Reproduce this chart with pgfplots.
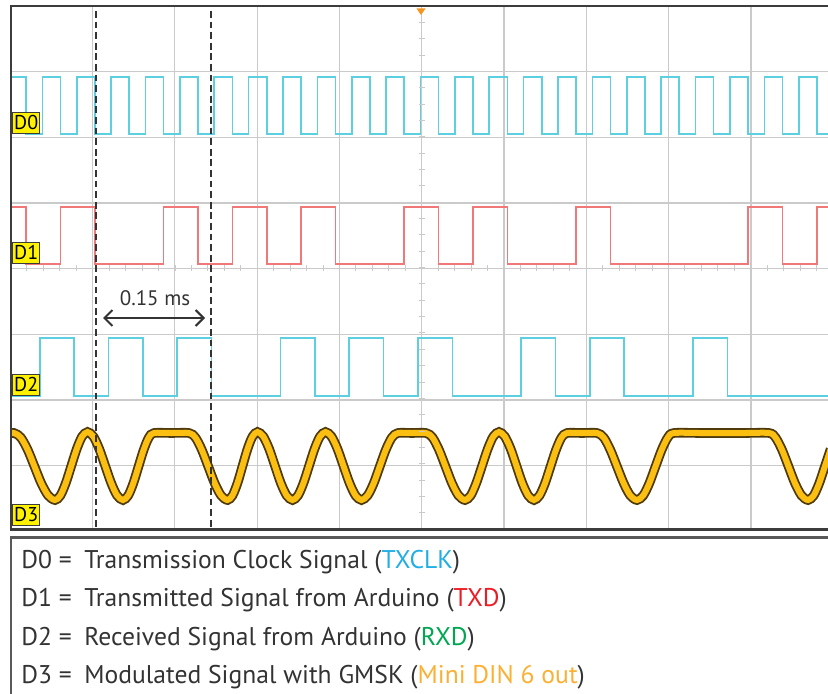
\documentclass[border=0pt]{standalone}
\usepackage{pgfplots}
\pgfplotsset{compat=1.18}
\usepackage{pgfplotstable}
\usepackage{fontspec}
\setmainfont{PT Sans}
\usetikzlibrary{arrows.meta}
\definecolor{cyanline}{HTML}{5CCFE0}
\definecolor{redline}{HTML}{F07878}
\definecolor{gridgray}{HTML}{CACACA}
\definecolor{bordergray}{HTML}{3C3C3C}
\definecolor{dthreedark}{HTML}{4F3A0C}
\definecolor{dthreeyellow}{HTML}{FBBF12}
\definecolor{labelyellow}{HTML}{FFF200}
\definecolor{txtgray}{HTML}{333333}
\definecolor{cTXCLK}{HTML}{22AEE4}
\definecolor{cTXD}{HTML}{ED1C24}
\definecolor{cRXD}{HTML}{00A651}
\definecolor{cDIN}{HTML}{FBB034}
\definecolor{trigorange}{HTML}{F7941D}

% x and y in screen pixels of the 828x694 reference (y grows downward)
\pgfplotstableread{
x y
5 434
14 433
20.8 437.5
27.7 449.8
34.5 466.5
41.3 483.3
48.2 495.5
55 500
60.4 495.5
65.8 483
71.25 466
76.7 449
82.1 436.5
87.5 432
93.4 436.5
99.3 449
105.25 466
111.2 483
117.1 495.5
123 500
128.2 495.5
133.3 483.3
138.5 466.5
143.7 449.8
148.8 437.5
154 433
171.5 433
189 433
195.4 437.5
201.8 449.8
208.25 466.5
214.7 483.3
221.1 495.5
227.5 500
232.5 495.5
237.5 483
242.5 466
247.5 449
252.5 436.5
257.5 432
263.3 436.5
269.2 449
275 466
280.8 483
286.7 495.5
292.5 500
298 495.5
303.5 483
309 466
314.5 449
320 436.5
325.5 432
331.5 436.5
337.5 449
343.5 466
349.5 483
355.5 495.5
361.5 500
367.6 495.5
373.7 483.3
379.75 466.5
385.8 449.8
391.9 437.5
398 433
412 433
426 433
432.5 437.5
439 449.8
445.5 466.5
452 483.3
458.5 495.5
465 500
470.7 495.5
476.3 483
482 466
487.7 449
493.3 436.5
499 432
504.8 436.5
510.7 449
516.5 466
522.3 483
528.2 495.5
534 500
539.5 495.5
545 483.3
550.5 466.5
556 449.8
561.5 437.5
567 433
582 433
597 433
603.7 437.5
610.3 449.8
617 466.5
623.7 483.3
630.3 495.5
637 500
643.2 495.5
649.3 483.3
655.5 466.5
661.7 449.8
667.8 437.5
674 433
700 433
721.5 433
745 433
769 433
775.5 437.5
782 449.8
788.5 466.5
795 483.3
801.5 495.5
808 500
813.7 495.5
819.3 483
825 466
830.7 449
}\dthree

\begin{document}
\begin{tikzpicture}
\path[use as bounding box] (0,0) rectangle (414pt,-347pt);
\begin{axis}[
  at={(5.25pt,-3pt)}, anchor=north west,
  scale only axis, width=408.75pt, height=261.5pt,
  xmin=10.5, xmax=828, ymin=6, ymax=529, y dir=reverse,
  axis line style={draw=none},
  xtick={92.5,174.8,257.1,339.4,421.7,504,586.3,668.6,750.9},
  ytick={71.7,137.3,203,268.3,334.3,400,465.7},
  xticklabels={}, yticklabels={},
  tick style={draw=none}, major tick length=0pt,
  grid=major, major grid style={color=gridgray, line width=0.6pt},
  clip=true,
]
% D0 transmission clock
\addplot[const plot, color=cyanline, line width=0.8pt] coordinates {
(10.5,77) (26.0,134) (42.3,77) (60.4,134) (76.7,77) (94.8,134) (111.0,77) (129.1,134)
(145.4,77) (163.5,134) (179.8,77) (197.9,134) (214.2,77) (232.3,134) (248.6,77) (266.7,134)
(282.9,77) (301.0,134) (317.3,77) (335.4,134) (351.7,77) (369.8,134) (386.1,77) (404.2,134)
(420.5,77) (438.6,134) (454.9,77) (472.9,134) (489.2,77) (507.3,134) (523.6,77) (541.7,134)
(558.0,77) (576.1,134) (592.4,77) (610.5,134) (626.8,77) (644.8,134) (661.1,77) (679.2,134)
(695.5,77) (713.6,134) (729.9,77) (748.0,134) (764.3,77) (782.4,134) (798.7,77) (816.7,134)
(828,134)};
% D1 transmitted data
\addplot[const plot, color=redline, line width=0.8pt] coordinates {
(10.5,207) (26.0,264) (60.4,207) (94.8,264) (163.5,207) (197.9,264) (232.3,207) (266.7,264)
(301.0,207) (335.4,264) (404.2,207) (438.6,264) (472.9,207) (507.3,264) (576.1,207) (610.5,264)
(748.0,207) (782.4,264) (816.7,207) (828,207)};
% D2 received data
\addplot[const plot, color=cyanline, line width=0.8pt] coordinates {
(10.5,396) (39.7,338) (74.1,396) (108.5,338) (142.8,396) (177.2,338) (211.6,396) (280.4,338)
(314.7,396) (349.1,338) (383.5,396) (417.9,338) (452.3,396) (521.0,338) (555.4,396) (589.8,338)
(624.2,396) (692.9,338) (727.3,396) (828,396)};
% D3 GMSK
\addplot[smooth, color=dthreedark, line width=4.8pt] table[x=x,y=y] {\dthree};
\addplot[smooth, color=dthreeyellow, line width=3.0pt] table[x=x,y=y] {\dthree};
\end{axis}

\begin{scope}[x=0.5pt, y=-0.5pt]
% minor ticks on the centre lines
\foreach \k in {1,...,31} \draw[color=gridgray, line width=0.5pt] (419,{6+16.35*\k}) -- (424.5,{6+16.35*\k});
\foreach \k in {1,...,49} \draw[color=gridgray, line width=0.5pt] ({10.5+16.45*\k},265.5) -- ({10.5+16.45*\k},271);
% borders
\draw[color=bordergray, line width=1.25pt] (840,6) -- (11,6) -- (11,529.5) -- (840,529.5);
\draw[color=bordergray!85, line width=1.1pt] (11,700) -- (11,537.5) -- (840,537.5);
% trigger marker
\fill[trigorange] (416.5,8.5) -- (425.5,8.5) -- (421,15) -- cycle;
% cursors
\draw[color=txtgray, line width=1.1pt, dash pattern=on 3.4pt off 1.9pt] (96,11) -- (96,529);
\draw[color=txtgray, line width=1.1pt, dash pattern=on 3.4pt off 1.9pt] (211,11) -- (211,529);
\draw[color=txtgray, line width=1pt, {Straight Barb[length=4pt,width=8pt]}-{Straight Barb[length=4pt,width=8pt]}] (103,318) -- (205,318);
\node[text=txtgray, font=\fontsize{10.5pt}{12pt}\selectfont, anchor=base] at (155,306) {0.15 ms};
% channel labels
\foreach \n/\yb in {D0/134, D1/264, D2/396, D3/526}
  \node[draw=bordergray, line width=0.7pt, fill=labelyellow, inner sep=0pt, minimum width=13.5pt, minimum height=10.5pt,
        anchor=south west, font=\fontsize{10pt}{12pt}\selectfont] at (12,\yb) {\n};
% legend text
\begin{scope}[every node/.style={anchor=base west, text=txtgray, inner sep=0pt, font=\fontsize{12.8pt}{15pt}\selectfont}]
\node at (21,568) {D0 =};
\node at (84,568) {Transmission Clock Signal (\textcolor{cTXCLK}{TXCLK})};
\node at (21,606.5) {D1 =};
\node at (84,606.5) {Transmitted Signal from Arduino (\textcolor{cTXD}{TXD})};
\node at (21,645) {D2 =};
\node at (84,645) {Received Signal from Arduino (\textcolor{cRXD}{RXD})};
\node at (21,683) {D3 =};
\node at (84,683) {Modulated Signal with GMSK (\textcolor{cDIN}{Mini DIN 6 out})};
\end{scope}
\end{scope}
\end{tikzpicture}
\end{document}
